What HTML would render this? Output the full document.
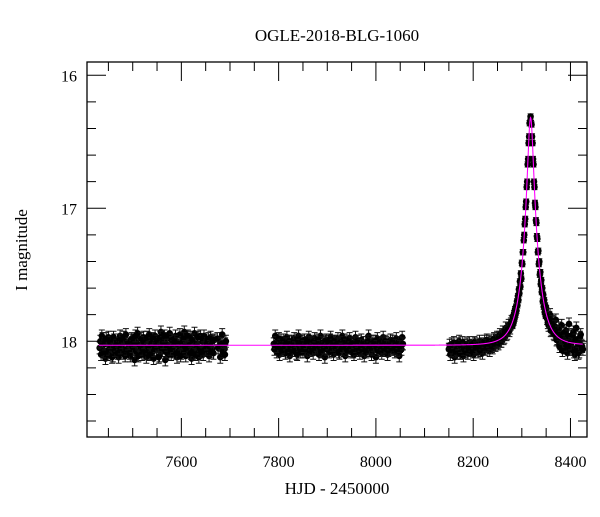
<!DOCTYPE html>
<html><head><meta charset="utf-8"><style>
body{margin:0;background:#fff;}
svg text{font-family:"Liberation Serif",serif;fill:#000;}
</style></head><body>
<svg id="chart" width="600" height="512" viewBox="0 0 600 512" xmlns="http://www.w3.org/2000/svg">
<rect width="600" height="512" fill="#fff"/>
<text x="337" y="41" font-size="17" text-anchor="middle">OGLE-2018-BLG-1060</text>
<text x="337" y="494" font-size="17" text-anchor="middle">HJD - 2450000</text>
<text x="27" y="250" font-size="17" text-anchor="middle" transform="rotate(-90 27 250)">I magnitude</text>
<g id="marks"></g>
<g id="axes"></g>
</svg>
<script>
const s1t=[7432,7435,7438,7441,7444,7447,7450,7453,7456,7459,7462,7465,7468,7471,7474,7477,7480,7483,7486,7489,7492,7495,7498,7501,7504,7507,7510,7513,7516,7519,7522,7525,7528,7531,7534,7537,7540,7543,7546,7549,7552,7555,7558,7561,7564,7567,7570,7573,7576,7579,7582,7585,7588,7591,7594,7597,7600,7603,7606,7609,7612,7615,7618,7621,7624,7627,7630,7633,7636,7639,7642,7645,7648,7651,7654,7657,7660,7663,7666,7674,7680,7684,7688,7690];
const s1m=[18.05,18.10,17.98,18.07,18.13,18.01,17.97,18.08,18.04,18.11,17.99,18.06,18.02,18.12,17.96,18.05,18.09,18.00,17.95,18.07,18.03,18.11,17.98,18.06,18.14,18.01,17.94,18.08,18.04,18.10,17.97,18.05,18.12,18.00,17.95,18.09,18.03,18.13,17.96,18.06,18.02,18.11,17.93,18.07,18.04,18.14,17.98,18.05,17.94,18.10,18.01,18.08,17.96,18.12,18.03,17.95,18.09,18.06,17.93,18.11,18.00,18.07,17.97,18.13,18.04,17.94,18.08,18.02,18.12,17.96,18.05,18.10,17.99,18.07,18.03,18.11,17.97,18.06,18.09,17.98,18.12,17.95,18.06,18.02];
const s1m2=[18.00,17.96,18.08,18.02,17.98,18.10,18.06,18.01,18.12,17.97,18.07,18.03,18.09,17.99,18.05,18.01,17.97,18.11,18.06,18.02,18.09,17.99,18.04,18.00,17.96,18.08,18.11,18.03,17.98,18.06,18.01,18.09,17.97,18.05,18.10,18.02,17.98,18.07,18.04,18.00,18.12,17.97,18.05,18.01,17.96,18.08,18.03,18.10,18.06,17.99,18.04,18.00,18.09,18.02,18.07,18.11,18.01,17.98,18.04,18.06,17.96,18.03,18.09,17.99,18.07,18.10,18.02,17.97,18.05,18.08,18.00,17.96,18.06,18.02,17.98,18.04,18.08,18.00,17.99,18.05,18.02,18.08,18.10,18.00];
const s2t=[7790,7793,7796,7799,7802,7805,7808,7811,7814,7817,7820,7823,7826,7829,7832,7835,7838,7841,7844,7847,7850,7853,7856,7859,7862,7865,7868,7871,7874,7877,7880,7883,7886,7889,7892,7895,7898,7901,7904,7907,7910,7913,7916,7919,7922,7925,7928,7931,7934,7937,7940,7943,7946,7949,7952,7955,7958,7961,7964,7967,7970,7973,7976,7979,7982,7985,7988,7991,7994,7997,8000,8003,8006,8009,8012,8015,8018,8021,8024,8027,8030,8033,8036,8039,8042,8045,8048,8051,8054];
const s2m=[18.02,17.96,18.08,18.04,18.10,17.99,18.06,18.01,18.09,17.97,18.05,18.11,18.00,18.07,17.98,18.03,18.10,17.96,18.06,18.02,18.08,17.99,18.04,18.11,17.97,18.05,18.01,18.09,17.98,18.06,18.03,18.10,17.96,18.07,18.02,18.12,17.99,18.05,18.08,17.97,18.04,18.10,18.00,18.06,17.98,18.09,18.03,17.96,18.07,18.11,18.01,18.05,17.98,18.08,18.04,18.10,17.97,18.06,18.02,18.09,17.99,18.05,18.11,18.01,18.07,17.96,18.04,18.10,18.00,18.06,18.12,17.98,18.05,18.03,18.09,17.97,18.07,18.01,18.10,18.04,17.99,18.06,18.02,18.08,17.98,18.05,18.11,18.03,17.97];
const s2m2=[18.06,18.01,18.04,17.98,18.03,18.07,17.99,18.05,18.02,18.08,18.00,18.04,18.07,18.01,18.05,18.09,17.99,18.03,18.08,18.00,18.04,18.06,18.01,17.99,18.07,18.02,18.06,18.00,18.05,18.03,17.99,18.04,18.08,18.01,18.05,18.00,18.06,18.02,17.99,18.07,18.03,18.00,18.05,18.02,18.08,18.01,18.06,18.04,17.99,18.03,18.07,18.00,18.05,18.02,18.08,18.01,18.04,18.00,18.07,18.03,18.06,18.01,18.04,18.08,18.00,18.05,18.02,18.06,18.03,18.00,18.04,18.07,18.01,18.06,18.02,18.05,18.00,18.04,18.07,18.02,18.05,18.00,18.06,18.03,18.07,18.01,18.04,18.06,18.02];
const s3t=[8150,8153,8156,8159,8162,8165,8168,8171,8174,8177,8180,8183,8186,8189,8192,8195,8198,8201,8204,8207,8210,8213,8216,8219,8222,8225,8228,8231,8234,8237,8240,8243,8246,8249,8252,8255,8258,8261,8264,8267,8270,8273,8276,8279];
const s3m=[18.06,18.10,18.02,18.08,18.12,18.04,18.07,18.00,18.09,18.05,18.11,18.03,18.06,18.09,18.01,18.07,18.04,18.10,18.02,18.06,18.08,18.00,18.05,18.09,18.03,18.06,17.99,18.04,18.07,18.01,18.05,17.98,18.03,17.97,18.02,17.95,18.00,17.93,17.97,17.90,17.94,17.88,17.90,17.85];
const s3m2=[18.03,18.07,18.05,18.01,18.08,18.06,18.02,18.09,18.04,18.01,18.06,18.08,18.02,18.05,18.07,18.03,18.08,18.01,18.05,18.03,18.04,18.07,18.02,18.05,18.00,18.03,18.05,18.00,18.02,18.04,17.99,18.03,18.00,18.01,17.97,18.00,17.96,17.98,17.93,17.95,17.91,17.92,17.87,17.86];
const pkt=[8281,8282,8283,8284,8285,8286,8287,8288,8289,8290,8291,8292,8293,8294,8295,8296,8297,8298,8299,8300,8301,8302,8303,8304,8305,8306,8307,8308,8309,8310,8311,8312,8313,8314,8315,8316,8317,8318,8319,8320,8321,8322,8323,8324,8325,8326,8327,8328,8329,8330,8331,8332,8333,8334,8335,8336,8337,8338,8339,8340,8341,8342,8343,8344,8345,8346,8347,8348,8349,8350];
const pkm=[17.88,17.82,17.86,17.79,17.83,17.76,17.80,17.74,17.77,17.70,17.73,17.66,17.69,17.61,17.64,17.55,17.59,17.49,17.53,17.41,17.42,17.33,17.33,17.24,17.20,17.12,17.08,16.99,16.95,16.84,16.80,16.67,16.63,16.51,16.46,16.36,16.35,16.31,16.36,16.37,16.46,16.51,16.63,16.67,16.80,16.84,16.96,16.99,17.09,17.11,17.21,17.23,17.33,17.32,17.42,17.40,17.50,17.48,17.57,17.54,17.63,17.60,17.70,17.65,17.74,17.69,17.78,17.73,17.81,17.75];
const s4t=[8352,8355,8358,8361,8364,8367,8370,8373,8376,8379,8382,8385,8388,8391,8394,8397,8400,8403,8406,8409,8412,8415,8418,8421,8424];
const s4m=[17.83,17.88,17.80,17.91,17.86,17.95,17.84,17.98,17.90,18.02,17.88,17.96,18.05,17.92,18.09,17.87,17.99,18.06,17.93,18.10,17.90,18.01,18.08,17.95,18.04];
const s4m2=[17.86,17.82,17.92,17.85,17.94,17.89,17.99,17.93,18.04,17.97,18.07,17.94,18.00,18.03,17.96,18.06,18.02,17.95,18.08,17.99,18.05,18.09,17.97,18.03,18.06];
const seasonErr=[0.045,0.045,0.045,0.045,0.045,0.045,0.02,0.045,0.045];
const modelParams=[8318,0.21,28,18.03]; // t0, u0, tE, baseline
const xTickLabels=[7600,7800,8000,8200,8400];
const yTickLabels=[16,17,18];

const NS='http://www.w3.org/2000/svg';
const X0=87,X1=587,Y0=62,Y1=437,TMIN=7406,TMAX=8434,MMIN=15.9,MMAX=18.72;
const xs=t=>X0+(t-TMIN)/(TMAX-TMIN)*(X1-X0);
const ys=m=>Y0+(m-MMIN)/(MMAX-MMIN)*(Y1-Y0);
const marks=document.getElementById('marks'),axes=document.getElementById('axes');
function mk(tag,attrs,parent){const e=document.createElementNS(NS,tag);for(const k in attrs)e.setAttribute(k,attrs[k]);parent.appendChild(e);return e;}

let d='';
for(let t=7430;t<=8425;t+=0.5){
  const tau=(t-modelParams[0])/modelParams[2];const u=Math.sqrt(modelParams[1]*modelParams[1]+tau*tau);
  const A=(u*u+2)/(u*Math.sqrt(u*u+4));const m=modelParams[3]-2.5*Math.log10(A);
  d+=(d?'L':'M')+xs(t).toFixed(2)+','+ys(m).toFixed(2);
}
const seasons=[[s1t,s1m,0],[s1t,s1m2,1.5],[s2t,s2m,0],[s2t,s2m2,1.5],[s3t,s3m,0],[s3t,s3m2,1.5],[pkt,pkm,0],[s4t,s4m,0],[s4t,s4m2,1.5]];
seasons.forEach((s,si)=>{
  const g=mk('g',{},marks);
  
  
  s[0].forEach((t,i)=>{
    const x=xs(t+s[2]),y=ys(s[1][i]),e=seasonErr[si];
    const ya=ys(s[1][i]-e),yb=ys(s[1][i]+e);
    mk('path',{d:`M${x},${ya}V${yb}M${x-3},${ya}H${x+3}M${x-3},${yb}H${x+3}`,stroke:'#111','stroke-width':1},g);
    const c=mk('circle',{cx:x,cy:y,r:3.3,fill:'#000'},g);
    
    
  });
});
const modelPath=mk('path',{d:d,fill:'none',stroke:'#ff00ff','stroke-width':1.1},marks);



const fr=mk('rect',{x:X0,y:Y0,width:X1-X0,height:Y1-Y0,fill:'none',stroke:'#000','stroke-width':1.3},axes);


for(let t=7450;t<=8400;t+=50){
  const x=xs(t),maj=(t%200===0),L=maj?19:9;
  mk('path',{d:`M${x},${Y1}V${Y1-L}M${x},${Y0}V${Y0+L}`,stroke:'#000','stroke-width':1},axes);
}
xTickLabels.forEach(v=>{
  const tx=mk('text',{x:xs(v),y:Y1+30,'font-size':16,'text-anchor':'middle'},axes);
  tx.textContent=v;
  
  
});
for(let k=0;k<=13;k++){
  const m=16+k*0.2,y=ys(m),maj=(k%5===0),L=maj?19:9;
  mk('path',{d:`M${X0},${y}H${X0+L}M${X1},${y}H${X1-L}`,stroke:'#000','stroke-width':1},axes);
}
yTickLabels.forEach(v=>{
  const tx=mk('text',{x:X0-10,y:ys(v)+6,'font-size':16,'text-anchor':'end'},axes);
  tx.textContent=v;
  
  
});
</script>
</body></html>
